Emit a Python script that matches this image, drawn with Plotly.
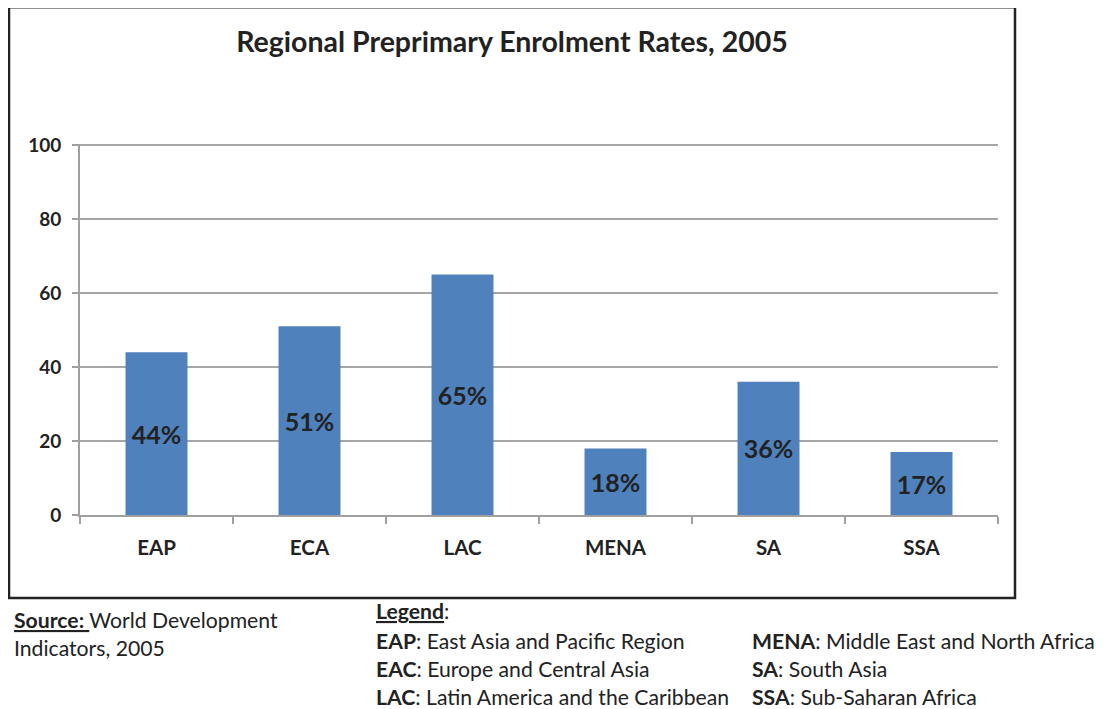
import plotly.graph_objects as go

categories = ["EAP", "ECA", "LAC", "MENA", "SA", "SSA"]
rates = [44, 51, 65, 18, 36, 17]
labels = [f"{v}%" for v in rates]
y_ticks = [0, 20, 40, 60, 80, 100]
y_top = 100.3

FONT = "Lato, Calibri, Carlito, sans-serif"
OFF = 8  # page body margin
W, H = 1108 - OFF, 709 - OFF
# plot area in reference pixels
L, R = 80, 998
Y0, Y100 = 515, 145
B = Y0
T = Y0 - (Y0 - Y100) * y_top / 100


def px_x(x):
    return (x - L) / (R - L)


def px_y(y):
    return (B - y) / (B - T)


fig = go.Figure(
    go.Bar(
        x=categories,
        y=rates,
        text=labels,
        textposition="inside",
        insidetextanchor="middle",
        textangle=0,
        textfont=dict(family=FONT, size=25, color="#222222", weight="bold"),
        marker=dict(color="#4F81BD", line=dict(width=0)),
        width=0.405,
        hoverinfo="skip",
    )
)

fig.update_layout(
    width=W,
    height=H,
    margin=dict(l=L - OFF, r=W - (R - OFF), t=T - OFF, b=H - (B - OFF)),
    paper_bgcolor="white",
    plot_bgcolor="white",
    showlegend=False,
    font=dict(family=FONT, color="#222222"),
    title=dict(
        text="<b>Regional Preprimary Enrolment Rates, 2005</b>",
        x=(512 - OFF) / W,
        xanchor="center",
        y=1 - (42 - OFF) / H,
        yanchor="middle",
        font=dict(family=FONT, size=28.5, color="#222222"),
    ),
    uniformtext=dict(mode=False),
)

fig.update_xaxes(
    type="category",
    showgrid=False,
    showline=True,
    linecolor="#A0A0A0",
    linewidth=2,
    ticks="outside",
    tickson="boundaries",
    ticklen=7,
    tickwidth=2,
    tickcolor="#A0A0A0",
    tickfont=dict(family=FONT, size=20.5, color="#222222", weight="bold"),
    ticklabelstandoff=13,
)

fig.update_yaxes(
    range=[0, y_top],
    tickvals=y_ticks,
    showgrid=True,
    gridcolor="#A6A6A6",
    gridwidth=2,
    showline=True,
    linecolor="#A0A0A0",
    linewidth=2,
    ticks="outside",
    ticklen=6,
    tickwidth=2,
    tickcolor="#A0A0A0",
    tickfont=dict(family=FONT, size=19, color="#222222", weight="bold"),
    ticklabelstandoff=7,
    zeroline=False,
)

# outer frame
fig.add_shape(
    type="rect",
    xref="paper",
    yref="paper",
    x0=px_x(9),
    x1=px_x(1015),
    y0=px_y(598),
    y1=px_y(7),
    line=dict(color="#222222", width=2.5),
    fillcolor="rgba(0,0,0,0)",
    layer="below",
)

foot_size = 21.2
notes = [
    (12, 620, "<b><u>Source: </u></b>World Development"),
    (12, 648, "Indicators, 2005"),
    (374, 611, "<b><u>Legend</u></b>:"),
    (374, 641, "<b>EAP</b>: East Asia and Pacific Region"),
    (374, 669, "<b>EAC</b>: Europe and Central Asia"),
    (374, 697, "<b>LAC</b>: Latin America and the Caribbean"),
    (750, 641, "<b>MENA</b>: Middle East and North Africa"),
    (750, 669, "<b>SA</b>: South Asia"),
    (750, 697, "<b>SSA</b>: Sub-Saharan Africa"),
]
for x, y, t in notes:
    fig.add_annotation(
        text=t,
        xref="paper",
        yref="paper",
        x=px_x(x),
        y=px_y(y),
        xanchor="left",
        yanchor="middle",
        showarrow=False,
        align="left",
        font=dict(family=FONT, size=foot_size, color="#222222"),
    )

fig.write_html("out.html")
